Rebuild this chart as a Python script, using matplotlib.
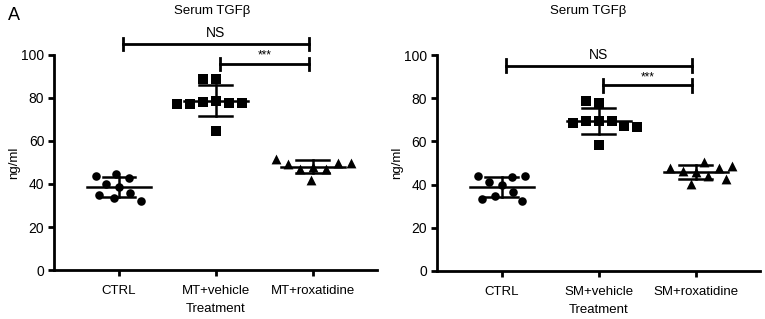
import numpy as np
import matplotlib
matplotlib.use("Agg")
import matplotlib.pyplot as plt

plt.rcParams['font.family'] = ['Liberation Sans', 'DejaVu Sans']

# values (ng/ml)
mt_groups = ["CTRL", "MT+vehicle", "MT+roxatidine"]
mt_ctrl = [44.7, 42.6, 43.7, 38.8, 39.8, 34.9, 32.2, 33.3, 35.7]
mt_vehicle = [88.8, 88.8, 78.3, 77.8, 77.1, 77.1, 77.8, 78.6, 64.8]
mt_roxa = [49.6, 49.1, 47.2, 47.2, 48.0, 49.6, 51.8, 42.0]

sm_groups = ["CTRL", "SM+vehicle", "SM+roxatidine"]
sm_ctrl = [43.5, 41.0, 39.9, 43.8, 43.8, 34.8, 32.5, 33.3, 36.5]
sm_vehicle = [77.8, 78.9, 69.6, 69.6, 67.3, 66.5, 68.5, 69.6, 58.5]
sm_roxa = [50.4, 45.8, 44.2, 47.7, 47.7, 48.7, 46.1, 40.2, 42.6]

# significance brackets: (from group, to group, height, label)
mt_brackets = [(0, 2, 105.1, "NS"), (1, 2, 95.8, "***")]
sm_brackets = [(0, 2, 95.1, "NS"), (1, 2, 86.0, "***")]

markers = ["o", "s", "^"]
sizes = [38, 44, 50]
FS = 9.5


def swarm(vals, d, sx, sy):
    # simple beeswarm: offsets so markers don't overlap (pixel space)
    vals = np.asarray(vals, float)
    order = np.argsort(np.abs(vals - vals.mean()))
    placed = []
    offs = np.zeros(len(vals))
    for k, i in enumerate(order):
        y = vals[i] * sy
        cands = [0.0]
        for px, py in placed:
            dy = y - py
            if abs(dy) < d:
                dx = np.sqrt(d * d - dy * dy)
                cands += [px + dx, px - dx]
        cands.sort(key=lambda c: (abs(round(c, 3)), c if k % 2 else -c))
        for c in cands:
            if all((c - px) ** 2 + (y - py) ** 2 >= d * d - 1e-6 for px, py in placed):
                break
        placed.append((c, y))
        offs[i] = c / sx
    return offs


def panel(ax, groups, data, brackets):
    ax.set_xlim(-0.67, 2.66)
    ax.set_ylim(0, 100)
    fig.canvas.draw()
    bb = ax.get_window_extent()
    sx = bb.width / (2.66 + 0.67)
    sy = bb.height / 100.0

    for i, vals in enumerate(data):
        offs = swarm(vals, 13, sx, sy)
        ax.scatter(i + offs, vals, marker=markers[i], s=sizes[i], color="black",
                   linewidths=0, zorder=3, clip_on=False)
        m = np.mean(vals)
        sd = np.std(vals, ddof=1)
        ax.plot([i - 0.33, i + 0.33], [m, m], color="black", lw=1.8, zorder=4)
        ax.plot([i, i], [m - sd, m + sd], color="black", lw=1.8, zorder=4)
        for yy in (m - sd, m + sd):
            ax.plot([i - 0.17, i + 0.17], [yy, yy], color="black", lw=1.8, zorder=4)

    for a, b, h, lab in brackets:
        x1, x2 = a + 0.04, b - 0.04
        ax.plot([x1, x2], [h, h], color="black", lw=2, clip_on=False)
        for xx in (x1, x2):
            ax.plot([xx, xx], [h - 3, h + 3], color="black", lw=2, clip_on=False)
        if lab == "NS":
            ax.text((x1 + x2) / 2, h + 1.8, lab, ha="center", va="bottom", fontsize=10,
                    clip_on=False)
        else:
            ax.text((x1 + x2) / 2, h + 1.0, lab, ha="center", va="bottom", fontsize=8.5,
                    clip_on=False)

    for side in ("top", "right"):
        ax.spines[side].set_visible(False)
    for side in ("left", "bottom"):
        ax.spines[side].set_linewidth(2)
    ax.set_xticks(range(len(groups)))
    ax.set_xticklabels(groups, fontsize=FS)
    ax.set_yticks(range(0, 101, 20))
    ax.tick_params(axis="y", width=2, length=4.5, labelsize=10, pad=2.5)
    ax.tick_params(axis="x", width=2, length=4.5, pad=6)
    ax.set_ylabel("ng/ml", fontsize=FS, labelpad=1)
    ax.text(1, -0.18, "Treatment", transform=ax.get_xaxis_transform(),
            ha="center", va="center", fontsize=FS)


fig = plt.figure(figsize=(7.65, 3.19), dpi=100)
ax1 = fig.add_axes([0.0706, 0.1536, 0.4222, 0.674])
ax2 = fig.add_axes([0.5712, 0.1505, 0.4222, 0.677])

panel(ax1, mt_groups, [mt_ctrl, mt_vehicle, mt_roxa], mt_brackets)
panel(ax2, sm_groups, [sm_ctrl, sm_vehicle, sm_roxa], sm_brackets)

fig.text(212 / 765, 1 - 11 / 319, "Serum TGFβ", ha="center", va="center", fontsize=FS)
fig.text(588 / 765, 1 - 11 / 319, "Serum TGFβ", ha="center", va="center", fontsize=FS)
fig.text(8 / 765, 1 - 15 / 319, "A", ha="left", va="center", fontsize=13)

fig.savefig("out.png", dpi=100)
